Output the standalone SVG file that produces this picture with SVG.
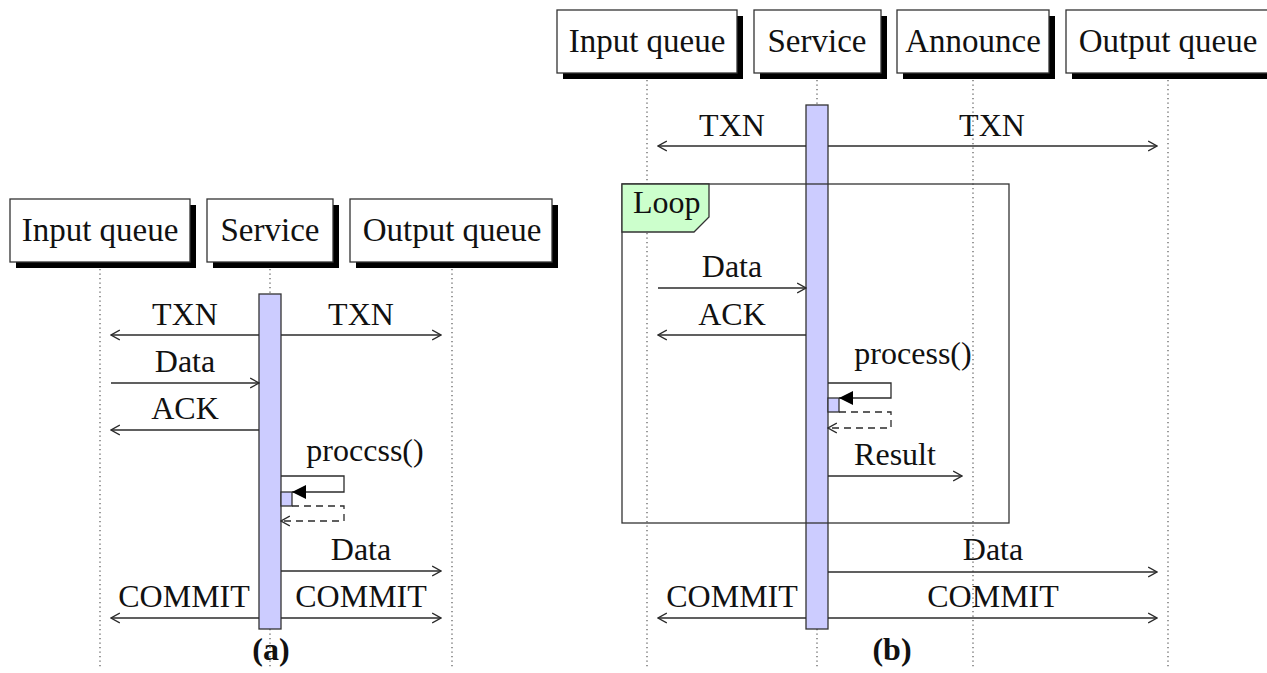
<svg xmlns="http://www.w3.org/2000/svg" width="1267" height="673" viewBox="0 0 1267 673">
<defs>
<style>
.lbl{font-family:"Liberation Serif","DejaVu Serif",serif;font-size:32px;fill:#111;text-anchor:middle}
.hdr{font-family:"Liberation Serif","DejaVu Serif",serif;font-size:33px;fill:#111;text-anchor:middle}
.cap{font-family:"Liberation Serif","DejaVu Serif",serif;font-size:32px;font-weight:bold;fill:#111;text-anchor:middle}
.life{stroke:#555;stroke-width:1.2;stroke-dasharray:1.2 3.3;fill:none}
.box{fill:#fff;stroke:#333;stroke-width:1.3}
.shadow{fill:#000}
.act{fill:#ccccff;stroke:#333;stroke-width:1.3}
.msg{stroke:#2b2b2b;stroke-width:1.3;fill:none}
.open{marker-end:url(#open)}
.filled{marker-end:url(#filled)}
.dash{stroke-dasharray:7 5}
.frame{fill:none;stroke:#333;stroke-width:1.3}
.tag{fill:#ccffcc;stroke:#333;stroke-width:1.3}
</style>
<marker id="open" viewBox="0 0 10 12" refX="9.3" refY="6" markerWidth="10" markerHeight="12" markerUnits="userSpaceOnUse" orient="auto"><path d="M0.5,1 L9.3,6 L0.5,11" fill="none" stroke="#2b2b2b" stroke-width="1.3"/></marker>
<marker id="filled" viewBox="0 0 14 14" refX="14" refY="7" markerWidth="14" markerHeight="14" markerUnits="userSpaceOnUse" orient="auto"><path d="M0,0 L14,7 L0,14 z" fill="#000"/></marker>
</defs>

<g id="lifelines">
<line class="life" x1="100" y1="269" x2="100" y2="668"/>
<line class="life" x1="270" y1="269" x2="270" y2="668"/>
<line class="life" x1="452" y1="269" x2="452" y2="668"/>
<line class="life" x1="647" y1="80" x2="647" y2="668"/>
<line class="life" x1="817" y1="80" x2="817" y2="668"/>
<line class="life" x1="973" y1="80" x2="973" y2="668"/>
<line class="life" x1="1168" y1="80" x2="1168" y2="668"/>
</g>

<!-- Diagram (a) nodes -->
<g id="a-input-queue">
<rect class="shadow" x="16" y="205" width="180" height="63"/>
<rect class="box" x="10" y="199" width="180" height="63"/>
<text class="hdr" x="100" y="241">Input queue</text>
</g>
<g id="a-service">
<rect class="shadow" x="213" y="205" width="126" height="63"/>
<rect class="box" x="207" y="199" width="126" height="63"/>
<text class="hdr" x="270" y="241">Service</text>
</g>
<g id="a-output-queue">
<rect class="shadow" x="356" y="205" width="202" height="63"/>
<rect class="box" x="350" y="199" width="202" height="63"/>
<text class="hdr" x="452" y="241">Output queue</text>
</g>
<g id="a-activation">
<rect class="act" x="259" y="294" width="22" height="335"/>
<rect class="act" x="281" y="492" width="11" height="14"/>
</g>

<!-- Diagram (b) nodes -->
<g id="b-input-queue">
<rect class="shadow" x="563" y="16" width="180" height="63"/>
<rect class="box" x="557" y="10" width="180" height="63"/>
<text class="hdr" x="647" y="52">Input queue</text>
</g>
<g id="b-service">
<rect class="shadow" x="760" y="16" width="127" height="63"/>
<rect class="box" x="754" y="10" width="127" height="63"/>
<text class="hdr" x="817" y="52">Service</text>
</g>
<g id="b-announce">
<rect class="shadow" x="903" y="16" width="152" height="63"/>
<rect class="box" x="897" y="10" width="152" height="63"/>
<text class="hdr" x="973" y="52">Announce</text>
</g>
<g id="b-output-queue">
<rect class="shadow" x="1072" y="16" width="204" height="63"/>
<rect class="box" x="1066" y="10" width="204" height="63"/>
<text class="hdr" x="1168" y="52">Output queue</text>
</g>
<g id="b-activation">
<rect class="act" x="806" y="105" width="22" height="524"/>
<rect class="act" x="828" y="398" width="11" height="14"/>
</g>
<g id="b-loop">
<rect class="frame" x="622" y="184" width="387" height="339"/>
<path class="tag" d="M622,184 L709,184 L709,217 L694,232 L622,232 Z"/>
<text class="lbl" x="633" y="213" style="text-anchor:start">Loop</text>
</g>

<g id="connectors">
<!-- (a) -->
<line class="msg open" x1="259" y1="335" x2="111" y2="335"/>
<line class="msg open" x1="281" y1="335" x2="441" y2="335"/>
<line class="msg open" x1="111" y1="383" x2="259" y2="383"/>
<line class="msg open" x1="259" y1="430" x2="111" y2="430"/>
<path class="msg filled" d="M281,476 L344,476 L344,492 L292,492"/>
<path class="msg dash open" d="M292,506 L344,506 L344,521 L281,521"/>
<line class="msg open" x1="281" y1="571" x2="441" y2="571"/>
<line class="msg open" x1="259" y1="618" x2="111" y2="618"/>
<line class="msg open" x1="281" y1="618" x2="441" y2="618"/>
<!-- (b) -->
<line class="msg open" x1="806" y1="146" x2="658" y2="146"/>
<line class="msg open" x1="828" y1="146" x2="1157" y2="146"/>
<line class="msg open" x1="658" y1="288" x2="806" y2="288"/>
<line class="msg open" x1="806" y1="335" x2="658" y2="335"/>
<path class="msg filled" d="M828,383 L891,383 L891,398 L839,398"/>
<path class="msg dash open" d="M839,412 L891,412 L891,428 L828,428"/>
<line class="msg open" x1="828" y1="476" x2="962" y2="476"/>
<line class="msg open" x1="828" y1="572" x2="1157" y2="572"/>
<line class="msg open" x1="806" y1="618" x2="658" y2="618"/>
<line class="msg open" x1="828" y1="618" x2="1157" y2="618"/>
</g>

<g id="labels">
<text class="lbl" x="185" y="325">TXN</text>
<text class="lbl" x="361" y="325">TXN</text>
<text class="lbl" x="185" y="372">Data</text>
<text class="lbl" x="185" y="419">ACK</text>
<text class="lbl" x="365" y="461">proccss()</text>
<text class="lbl" x="361" y="560">Data</text>
<text class="lbl" x="184" y="607">COMMIT</text>
<text class="lbl" x="361" y="607">COMMIT</text>
<text class="cap" x="271" y="660">(a)</text>

<text class="lbl" x="732" y="136">TXN</text>
<text class="lbl" x="992" y="136">TXN</text>
<text class="lbl" x="732" y="277">Data</text>
<text class="lbl" x="732" y="325">ACK</text>
<text class="lbl" x="913" y="364">process()</text>
<text class="lbl" x="895" y="465">Result</text>
<text class="lbl" x="993" y="560">Data</text>
<text class="lbl" x="732" y="607">COMMIT</text>
<text class="lbl" x="993" y="607">COMMIT</text>
<text class="cap" x="892" y="660">(b)</text>
</g>
</svg>
